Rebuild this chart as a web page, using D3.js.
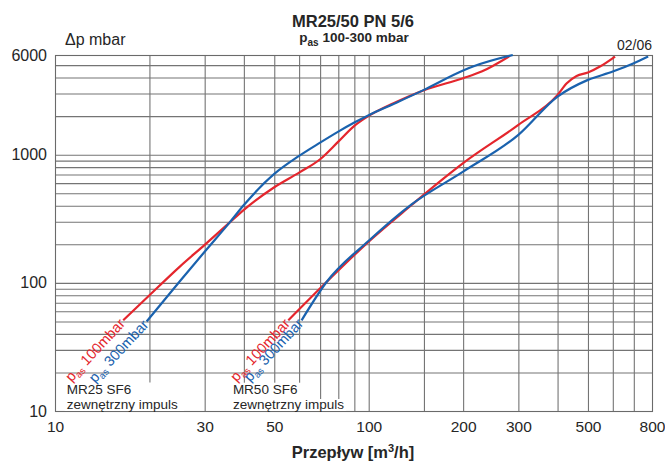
<!DOCTYPE html>
<html><head><meta charset="utf-8">
<script src="https://cdn.jsdelivr.net/npm/d3@7"></script>
<style>
body{margin:0;background:#fff}
text{font-family:"Liberation Sans",Arial,Helvetica,sans-serif;fill:#262626}
</style>
</head><body>
<svg id="c" width="665" height="463"></svg>
<script>
// ---- data ----
const xTickLabels = [10, 30, 50, 100, 200, 300, 500, 800];
const yTickLabels = [10, 100, 1000, 6000];
const xGridValues = [20, 30, 40, 50, 60, 70, 80, 90, 100, 150, 200, 300, 400, 500, 600, 700];
const yGridValues = [20, 30, 40, 50, 60, 70, 80, 90, 100, 200, 300, 400, 500, 600, 700, 800, 900, 1000, 2000, 3000, 4000, 5000];

// MR25 SF6, p_as 100 mbar
const mr25Flow100 = [16.5, 20, 25, 30, 36, 40, 50, 60, 70, 80, 90, 100, 120, 150, 200, 229, 282];
const mr25Dp100   = [51, 80, 134, 198, 295, 371, 557, 725, 922, 1265, 1679, 2009, 2524, 3190, 3955, 4455, 5900];
// MR25 SF6, p_as 300 mbar
const mr25Flow300 = [19.6, 25, 30, 36, 40, 50, 60, 70, 80, 90, 100, 120, 150, 200, 215, 288];
const mr25Dp300   = [50, 103, 175, 295, 405, 708, 979, 1242, 1514, 1781, 2033, 2489, 3206, 4535, 4874, 6000];
// MR50 SF6, p_as 100 mbar
const mr50Flow100 = [55.4, 73.5, 100, 137, 173, 200, 300, 400, 428, 460, 500, 546, 610];
const mr50Dp100   = [51, 102, 210, 405, 650, 859, 1709, 2930, 3614, 4121, 4375, 4874, 5834];
// MR50 SF6, p_as 300 mbar
const mr50Flow300 = [61.1, 73.5, 100, 137, 200, 300, 400, 500, 600, 700, 778];
const mr50Dp300   = [51, 102, 213, 410, 738, 1428, 2842, 3837, 4455, 5178, 5834];

const seriesLabels100 = "100mbar";
const seriesLabels300 = "300mbar";
const boxLabels = [["MR25 SF6", "zewnętrzny impuls"], ["MR50 SF6", "zewnętrzny impuls"]];
const boxLabelFlow = [10.9, 36.9];

// ---- drawing ----
const svg = d3.select("#c");
const x = d3.scaleLog().domain([10, 800]).range([55, 652]);
const y = d3.scaleLog().domain([10, 6000]).range([411, 55]);
const [x0, x1] = x.range();
const [yb, yt] = y.range();
const GRID = "#747474";

// vertical grid
const gx = svg.append("g").attr("transform", `translate(0,${yb})`)
  .call(d3.axisBottom(x).tickValues(xGridValues).tickSize(-(yb - yt)).tickFormat(""));
gx.select(".domain").remove();
gx.selectAll("line").attr("stroke", GRID).attr("stroke-width", 1.1);
// horizontal grid
const gy = svg.append("g").attr("transform", `translate(${x0},0)`)
  .call(d3.axisLeft(y).tickValues(yGridValues).tickSize(-(x1 - x0)).tickFormat(""));
gy.select(".domain").remove();
gy.selectAll("line").attr("stroke", GRID).attr("stroke-width", 1.1);

// frame
svg.append("rect").attr("x", x0 + 0.5).attr("y", yt + 0.5)
  .attr("width", x1 - x0).attr("height", yb - yt)
  .attr("fill", "none").attr("stroke", "#6a6a6a").attr("stroke-width", 1.1);

// box labels with white masks
function boxLabel(lines, fx, union) {
  const g = svg.append("g");
  const px = x(fx);
  const t1 = g.append("text").attr("x", px).attr("y", yb - 17.3).attr("font-size", 13.5).text(lines[0]);
  const t2 = g.append("text").attr("x", px).attr("y", yb - 2).attr("font-size", 13.5).text(lines[1]);
  const b1 = t1.node().getBBox(), b2 = t2.node().getBBox();
  if (union) {
    const xa = Math.min(b1.x, b2.x) - 2, xb = Math.max(b1.x + b1.width, b2.x + b2.width) + 6;
    g.insert("rect", "text").attr("x", xa).attr("y", b1.y + 1).attr("width", xb - xa)
      .attr("height", yb - b1.y - 1).attr("fill", "#fff");
    // extend first-line mask past the 20 gridline as in the original sheet
    g.insert("rect", "text").attr("x", b1.x + b1.width).attr("y", b1.y + 1).attr("width", x(21) - b1.x - b1.width)
      .attr("height", yb - b1.y - 1).attr("fill", "#fff");
  } else {
    g.insert("rect", "text").attr("x", b1.x - 2).attr("y", b1.y + 1).attr("width", b1.width + 8)
      .attr("height", yb - b1.y - 1).attr("fill", "#fff");
    g.insert("rect", "text").attr("x", b2.x - 2).attr("y", b2.y + 2).attr("width", b2.width + 4)
      .attr("height", yb - b2.y - 2).attr("fill", "#fff");
  }
}
boxLabel(boxLabels[0], boxLabelFlow[0], true);
boxLabel(boxLabels[1], boxLabelFlow[1], false);

// axis tick labels
const ax = svg.append("g").attr("transform", `translate(0,${yb})`)
  .call(d3.axisBottom(x).tickValues(xTickLabels).tickFormat(d3.format("d")).tickSize(0).tickPadding(10));
ax.select(".domain").remove();
ax.selectAll("text").attr("font-size", 15.5).attr("fill", "#262626").attr("font-family", null);
const ay = svg.append("g").attr("transform", `translate(${x0},0)`)
  .call(d3.axisLeft(y).tickValues(yTickLabels).tickFormat(d3.format("d")).tickSize(0).tickPadding(8));
ay.select(".domain").remove();
ay.selectAll("text").attr("font-size", 16).attr("fill", "#262626").attr("font-family", null);

// curves
const line = d3.line().x(d => x(d[0])).y(d => y(d[1])).curve(d3.curveMonotoneX);
const RED = "#e4262d", BLUE = "#1a62ae";
const series = [
  {f: mr25Flow100, v: mr25Dp100, c: RED, lab: seriesLabels100},
  {f: mr25Flow300, v: mr25Dp300, c: BLUE, lab: seriesLabels300},
  {f: mr50Flow100, v: mr50Dp100, c: RED, lab: seriesLabels100},
  {f: mr50Flow300, v: mr50Dp300, c: BLUE, lab: seriesLabels300}
];
series.forEach(s => {
  const pts = s.f.map((f, i) => [f, s.v[i]]);
  svg.append("path").attr("d", line(pts)).attr("fill", "none")
    .attr("stroke", s.c).attr("stroke-width", 2.2).attr("stroke-linejoin", "round");
  const sx = x(s.f[0]) + 2.5, sy = y(s.v[0]) + 4;
  const t = svg.append("text").attr("transform", `translate(${sx},${sy}) rotate(-47)`)
    .attr("text-anchor", "end").attr("font-size", 14.5).style("fill", s.c);
  t.append("tspan").text("p");
  t.append("tspan").attr("font-size", 9.5).attr("dy", 3).text("as");
  t.append("tspan").attr("dy", -3).text(" " + s.lab);
});

// titles
svg.append("text").attr("x", 353).attr("y", 27).attr("text-anchor", "middle")
  .attr("font-size", 16.5).attr("font-weight", "bold").text("MR25/50 PN 5/6");
const st = svg.append("text").attr("x", 354).attr("y", 42).attr("text-anchor", "middle")
  .attr("font-size", 13.5).attr("font-weight", "bold");
st.append("tspan").text("p");
st.append("tspan").attr("font-size", 10).attr("dy", 4).text("as");
st.append("tspan").attr("dy", -4).text(" 100-300 mbar");
svg.append("text").attr("x", 65).attr("y", 45).attr("font-size", 16).text("Δp mbar");
svg.append("text").attr("x", x1).attr("y", 50).attr("text-anchor", "end").attr("font-size", 14).text("02/06");
const xt = svg.append("text").attr("x", 353).attr("y", 458).attr("text-anchor", "middle")
  .attr("font-size", 16.5).attr("font-weight", "bold");
xt.append("tspan").text("Przepływ [m");
xt.append("tspan").attr("font-size", 11).attr("dy", -6).text("3");
xt.append("tspan").attr("dy", 6).text("/h]");
</script>
</body></html>
